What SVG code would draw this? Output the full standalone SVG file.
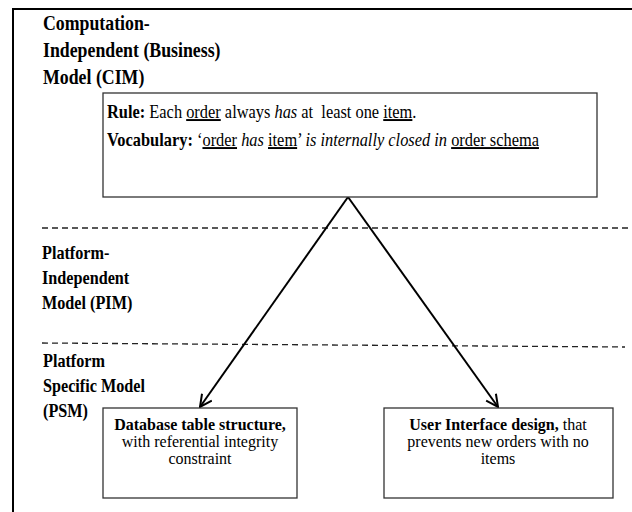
<svg xmlns="http://www.w3.org/2000/svg" width="632" height="512" viewBox="0 0 632 512">
<style>
text{font-family:"Liberation Serif","Times New Roman",serif;fill:#000}
.lvl{font-weight:bold;font-size:17.8px}
.lvs{font-weight:bold;font-size:16.2px}
.bt{font-size:16.4px}
.bx{font-size:16px}
.b{font-weight:bold}
.i{font-style:italic}
.u{text-decoration:underline}
.box{fill:#fff;stroke:#333;stroke-width:1.3}
.dash{stroke:#222;stroke-width:1.3;stroke-dasharray:6 4;fill:none}
.conn{stroke:#000;stroke-width:2;fill:none}
</style>
<defs>
<marker id="arr" viewBox="0 0 14 14" refX="13" refY="7" markerWidth="14" markerHeight="14" markerUnits="userSpaceOnUse" orient="auto">
<path d="M1,1 L13,7 L1,13" fill="none" stroke="#000" stroke-width="2"/>
</marker>
</defs>
<rect width="632" height="512" fill="#fff"/>
<g id="frame">
<line x1="12" y1="9" x2="632" y2="9" stroke="#000" stroke-width="2"/>
<line x1="13" y1="8" x2="13" y2="512" stroke="#000" stroke-width="2"/>
<line class="dash" x1="42" y1="228" x2="632" y2="228"/>
<line class="dash" x1="42" y1="343" x2="625" y2="347"/>
</g>
<g id="label-cim">
<text class="lvl" transform="translate(43,30) scale(1,1.2)">Computation-</text>
<text class="lvl" transform="translate(43,57) scale(1,1.2)">Independent (Business)</text>
<text class="lvl" transform="translate(43,84) scale(1,1.2)">Model (CIM)</text>
</g>
<g id="label-pim">
<text class="lvs" transform="translate(42,259) scale(1,1.2)">Platform-</text>
<text class="lvs" transform="translate(42,284) scale(1,1.2)">Independent</text>
<text class="lvs" transform="translate(42,309) scale(1,1.2)">Model (PIM)</text>
</g>
<g id="label-psm">
<text class="lvs" transform="translate(43,367) scale(1,1.2)">Platform</text>
<text class="lvs" transform="translate(43,392) scale(1,1.2)">Specific Model</text>
<text class="lvs" transform="translate(43,417) scale(1,1.2)">(PSM)</text>
</g>
<g id="connectors">
<line class="conn" x1="348" y1="197" x2="200" y2="407" marker-end="url(#arr)"/>
<line class="conn" x1="348" y1="197" x2="498" y2="407" marker-end="url(#arr)"/>
</g>
<g id="node-rule">
<rect class="box" x="103" y="93" width="494" height="104"/>
<text class="bt" transform="translate(107,118) scale(1,1.18)"><tspan class="b">Rule:</tspan> Each <tspan class="u">order</tspan> always <tspan class="i">has</tspan> at&#160; least one <tspan class="u">item</tspan>.</text>
<text class="bt" transform="translate(107,146) scale(1,1.18)"><tspan class="b">Vocabulary:</tspan> ‘<tspan class="u">order</tspan> <tspan class="i">has</tspan> <tspan class="u">item</tspan>’ <tspan class="i">is internally closed in</tspan> <tspan class="u">order schema</tspan></text>
</g>
<g id="node-db">
<rect class="box" x="103" y="408" width="194" height="90"/>
<text class="bx b" text-anchor="middle" x="200" y="430">Database table structure,</text>
<text class="bx" text-anchor="middle" x="200" y="447">with referential integrity</text>
<text class="bx" text-anchor="middle" x="200" y="464">constraint</text>
</g>
<g id="node-ui">
<rect class="box" x="384" y="408" width="229" height="90"/>
<text class="bx" text-anchor="middle" x="498" y="430"><tspan class="b">User Interface design,</tspan> that</text>
<text class="bx" text-anchor="middle" x="498" y="447">prevents new orders with no</text>
<text class="bx" text-anchor="middle" x="498" y="464">items</text>
</g>
</svg>
